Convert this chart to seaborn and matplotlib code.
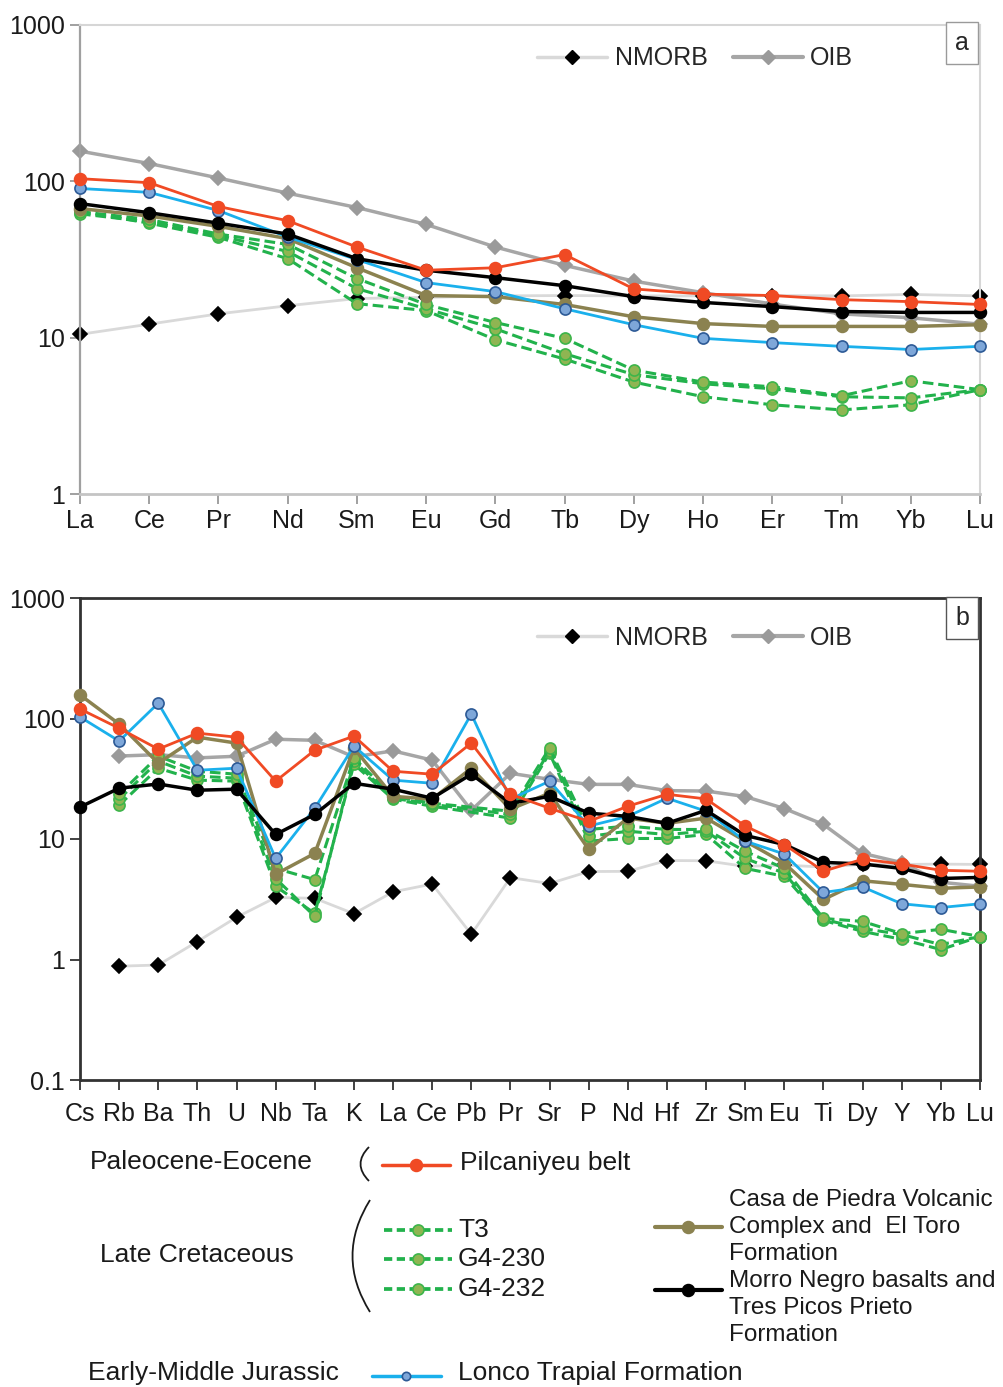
import numpy as np
import pandas as pd
import matplotlib
matplotlib.use("Agg")
import matplotlib.pyplot as plt
import seaborn as sns
from matplotlib.lines import Line2D
from matplotlib.path import Path
from matplotlib.patches import PathPatch
from matplotlib.ticker import NullLocator

nan = np.nan

# ---- panel a: chondrite-normalised REE ----
ree = ['La', 'Ce', 'Pr', 'Nd', 'Sm', 'Eu', 'Gd', 'Tb', 'Dy', 'Ho', 'Er', 'Tm', 'Yb', 'Lu']
nmorb_a = [10.5, 12.2, 14.2, 16.0, 17.8, 18.1, 18.5, 18.6, 18.5, 18.5, 18.6, 18.5, 18.9, 18.5]
oib_a = [156, 130, 105, 84, 68, 53, 38, 29, 23, 19.4, 16.4, 14.2, 13.4, 12.2]
pilc_a = [104, 98, 69, 56, 38, 27, 28, 34, 20.5, 19, 18.6, 17.5, 17, 16.3]
morro_a = [72, 63, 54, 46, 32, 27, 24.2, 21.5, 18.3, 16.8, 15.8, 14.7, 14.5, 14.5]
lonco_a = [90, 85, 65, 44, 31.6, 22.5, 19.7, 15.3, 12.1, 9.9, 9.3, 8.8, 8.4, 8.8]
casa_a = [67, 60, 51.5, 43, 28, 18.6, 18.3, 16.3, 13.6, 12.3, 11.8, 11.8, 11.8, 12.1]
t3_a = [64, 57, 46, 39.5, 23.9, 16.3, 12.5, 9.9, 6.2, 5.2, 4.85, 4.25, 5.3, 4.65]
g4230_a = [62, 55, 45, 35.6, 20.6, 15.3, 11.4, 7.9, 5.8, 5.07, 4.71, 4.19, 4.12, 4.65]
g4232_a = [64, 54, 43.8, 32, 16.5, 14.9, 9.7, 7.3, 5.2, 4.19, 3.72, 3.45, 3.72, 4.65]

# ---- panel b: primitive-mantle-normalised multi-element ----
elements = ['Cs', 'Rb', 'Ba', 'Th', 'U', 'Nb', 'Ta', 'K', 'La', 'Ce', 'Pb', 'Pr', 'Sr', 'P',
            'Nd', 'Hf', 'Zr', 'Sm', 'Eu', 'Ti', 'Dy', 'Y', 'Yb', 'Lu']
nmorb_b = [nan, 0.88, 0.90, 1.41, 2.24, 3.27, 3.22, 2.4, 3.64, 4.23, 1.62, 4.78, 4.27, 5.37,
           5.39, 6.63, 6.6, 5.92, 6.07, 5.85, 6.17, 6.15, 6.19, 6.15]
oib_b = [nan, 48.8, 50.1, 47.1, 48.6, 67.3, 65.9, 48, 53.9, 45.1, 17.3, 35.1, 31.3, 28.4,
         28.4, 25.2, 25, 22.5, 17.9, 13.2, 7.6, 6.37, 4.38, 4.05]
pilc_b = [120, 83, 55.7, 75.6, 70, 30.2, 54.6, 71.4, 36.5, 34.5, 62.5, 23.5, 18, 14,
          18.7, 23.5, 21.5, 12.8, 9.0, 5.4, 6.8, 6.2, 5.5, 5.4]
lonco_b = [103, 65, 134, 37.2, 38.7, 6.9, 18, 59, 30.8, 29, 109, 21.4, 30.2, 12.8,
           15.4, 21.8, 17, 9.6, 7.5, 3.6, 4.0, 2.9, 2.7, 2.9]
casa_b = [157, 90, 42.6, 70, 62.5, 5.1, 7.6, 56.8, 22.6, 21.4, 38.7, 17.7, 24, 8.2,
          14.9, 13.5, 14.9, 9.6, 6.3, 3.15, 4.5, 4.2, 3.9, 4.0]
morro_b = [18.4, 26.4, 28.6, 25.4, 25.9, 10.9, 16, 29, 25.9, 21.8, 34.5, 19.8, 22.6, 16.4,
           15.4, 13.5, 17.3, 10.7, 9.0, 6.4, 6.2, 5.7, 4.7, 4.8]
t3_b = [nan, 23.5, 48.7, 36.5, 34.5, 5.7, 4.6, 46.9, 22.6, 19.8, nan, 17, 56.8, 12,
        12.8, 12, 12, 7.9, 5.7, 2.19, 2.07, 1.64, 1.78, 1.55]
g4230_b = [nan, 21.4, 44.3, 33.2, 32, 4.7, 2.28, 44.3, 21.8, 19.4, nan, 16, 53.6, 10.5,
           11.6, 10.9, 11.6, 6.9, 5.2, 2.15, 1.81, 1.61, 1.33, 1.55]
g4232_b = [nan, 19.1, 38.7, 30.8, 30.2, 4.05, 2.41, 41.8, 21.4, 18.7, nan, 14.9, 51.6, 9.6,
           10.1, 10.1, 10.9, 5.7, 4.9, 2.11, 1.71, 1.47, 1.21, 1.55]

# ---- styles ----
RED = '#f04a24'
BLUE = '#1ab0ec'
OLIVE = '#8b8250'
GREEN = '#22b24c'
styles = {
    'nmorb': dict(color='#d9d9d9', lw=2.0, marker='D', ms=7, mfc='black', mec='black', ls='-', z=2),
    'oib': dict(color='#a6a6a6', lw=2.5, marker='D', ms=7, mfc='#9a9a9a', mec='#9a9a9a', ls='-', z=2),
    'g4232': dict(color=GREEN, lw=2.2, marker='o', ms=8, mfc='#8fb552', mec='#3db54a', ls='--', z=3),
    'g4230': dict(color=GREEN, lw=2.2, marker='o', ms=8, mfc='#8fb552', mec='#3db54a', ls='--', z=3),
    't3': dict(color=GREEN, lw=2.2, marker='o', ms=8, mfc='#8fb552', mec='#3db54a', ls='--', z=3),
    'casa': dict(color=OLIVE, lw=2.5, marker='o', ms=8.5, mfc=OLIVE, mec=OLIVE, ls='-', z=4),
    'lonco': dict(color=BLUE, lw=2.0, marker='o', ms=8, mfc='#7ea7d9', mec='#2d5a96', ls='-', z=5),
    'morro': dict(color='black', lw=2.5, marker='o', ms=8.5, mfc='black', mec='black', ls='-', z=5),
    'pilc': dict(color=RED, lw=2.0, marker='o', ms=8.5, mfc=RED, mec=RED, ls='-', z=6),
}

series_a = {'nmorb': nmorb_a, 'oib': oib_a, 'g4232': g4232_a, 'g4230': g4230_a, 't3': t3_a,
            'casa': casa_a, 'lonco': lonco_a, 'morro': morro_a, 'pilc': pilc_a}
series_b = {'nmorb': nmorb_b, 'oib': oib_b, 'g4232': g4232_b, 'g4230': g4230_b, 't3': t3_b,
            'casa': casa_b, 'lonco': lonco_b, 'morro': morro_b, 'pilc': pilc_b}

sns.set_theme(style='white')
plt.rcParams['font.family'] = ['Liberation Sans', 'DejaVu Sans']

W, H = 1004, 1387
fig = plt.figure(figsize=(W / 100, H / 100), dpi=100)


def px_axes(left, top, right, bottom):
    return fig.add_axes([left / W, 1 - bottom / H, (right - left) / W, (bottom - top) / H])


def draw_series(ax, labels, series):
    for key, vals in series.items():
        st = styles[key]
        df = pd.DataFrame({'x': np.arange(len(labels)), 'y': vals}).dropna()
        sns.lineplot(data=df, x='x', y='y', ax=ax, estimator=None, errorbar=None,
                     color=st['color'], linewidth=st['lw'], linestyle=st['ls'],
                     marker=st['marker'], markersize=st['ms'],
                     markerfacecolor=st['mfc'], markeredgecolor=st['mec'],
                     markeredgewidth=1.2, zorder=st['z'], clip_on=False)
        if st['ls'] == '--':
            ax.lines[-1].set_dashes((3.5, 1.6))


def style_axes(ax, labels, yticks, ylabels, spine_cols, tick_col, panel, leg_y, tag_y, tag_ec, xpad):
    ax.set_yscale('log')
    ax.set_xlim(0, len(labels) - 1)
    ax.set_ylim(yticks[0], yticks[-1])
    ax.set_yticks(yticks)
    ax.set_yticklabels(ylabels)
    ax.yaxis.set_minor_locator(NullLocator())
    ax.set_xticks(np.arange(len(labels)))
    ax.set_xticklabels(labels)
    ax.set_xlabel('')
    ax.set_ylabel('')
    ax.tick_params(axis='both', which='major', direction='out', length=7, width=1.3,
                   color=tick_col, labelsize=18, labelcolor='#1a1a1a', pad=4,
                   left=True, bottom=True)
    ax.tick_params(axis='x', pad=xpad)
    for side, (c, lw) in spine_cols.items():
        ax.spines[side].set_visible(True)
        ax.spines[side].set_color(c)
        ax.spines[side].set_linewidth(lw)
    ax.grid(False)
    handles = [
        Line2D([], [], color='#d9d9d9', lw=2.5, marker='D', ms=7, mfc='black', mec='black'),
        Line2D([], [], color='#a6a6a6', lw=3, marker='D', ms=7, mfc='#9a9a9a', mec='#9a9a9a'),
    ]
    ax.legend(handles, ['NMORB', 'OIB'], loc='center left', bbox_to_anchor=(0.508, leg_y),
              ncol=2, frameon=False, fontsize=18, handlelength=2.8, handletextpad=0.3,
              columnspacing=1.0, borderpad=0, borderaxespad=0)
    ax.text(0.98, tag_y, panel, transform=ax.transAxes, ha='center', va='center', fontsize=18,
            bbox=dict(boxstyle='square,pad=0.35', fc='white', ec=tag_ec, lw=1.0), zorder=10)


ax_a = px_axes(80, 25, 980, 494)
draw_series(ax_a, ree, series_a)
style_axes(ax_a, ree, [1, 10, 100, 1000], ['1', '10', '100', '1000'],
           {'left': ('#a0a0a0', 1.6), 'bottom': ('#c4c4c4', 2.0),
            'top': ('#d6d6d6', 1.5), 'right': ('#d6d6d6', 1.5)},
           '#999999', 'a', 0.929, 0.962, '#9a9a9a', 4)

ax_b = px_axes(80, 598, 980, 1080)
draw_series(ax_b, elements, series_b)
style_axes(ax_b, elements, [0.1, 1, 10, 100, 1000], ['0.1', '1', '10', '100', '1000'],
           {'left': ('#333333', 2.0), 'bottom': ('#333333', 2.0),
            'top': ('#333333', 2.0), 'right': ('#333333', 2.0)},
           '#333333', 'b', 0.918, 0.958, '#555555', 9)

# ---- grouped legend below the panels (pixel coordinates) ----
lg = fig.add_axes([0, 0, 1, 1])
lg.set_xlim(0, W)
lg.set_ylim(H, 0)
lg.axis('off')
lg.patch.set_alpha(0)

txt = dict(fontsize=19, color='#1a1a1a', va='center', ha='left')
txt_small = dict(fontsize=17.5, color='#1a1a1a', va='center', ha='left', linespacing=1.3)


def handle(x0, x1, y, key, ms=None):
    st = styles[key]
    xm = (x0 + x1) / 2
    lg.plot([x0, x1], [y, y], color=st['color'], lw=st['lw'] + 0.5, ls=st['ls'],
            dashes=(2.2, 1.2) if st['ls'] == '--' else (None, None))
    lg.plot([xm], [y], marker='o', ms=ms or st['ms'], mfc=st['mfc'], mec=st['mec'], mew=1.2)


lg.text(90, 1162, 'Paleocene-Eocene', **txt)
lg.add_patch(PathPatch(Path([(369, 1147), (352, 1164), (369, 1181)],
                            [Path.MOVETO, Path.CURVE3, Path.CURVE3]),
                       fc='none', ec='#1a1a1a', lw=1.3))
handle(382, 450, 1165, 'pilc')
lg.text(460, 1163, 'Pilcaniyeu belt', **txt)

lg.text(100, 1255, 'Late Cretaceous', **txt)
lg.add_patch(PathPatch(Path([(370, 1200), (335, 1256), (370, 1312)],
                            [Path.MOVETO, Path.CURVE3, Path.CURVE3]),
                       fc='none', ec='#1a1a1a', lw=1.3))
for yy, key, name in [(1230, 't3', 'T3'), (1259, 'g4230', 'G4-230'), (1289, 'g4232', 'G4-232')]:
    handle(384, 452, yy, key)
    lg.text(458, yy, name, **txt)

handle(655, 722, 1227, 'casa')
lg.text(729, 1227, 'Casa de Piedra Volcanic\nComplex and  El Toro\nFormation', **txt_small)
handle(655, 722, 1290, 'morro')
lg.text(729, 1308, 'Morro Negro basalts and\nTres Picos Prieto\nFormation', **txt_small)

lg.text(88, 1373, 'Early-Middle Jurassic', **txt)
handle(372, 441, 1376, 'lonco', ms=6)
lg.text(458, 1373, 'Lonco Trapial Formation', **txt)

fig.savefig('out.png', dpi=100)
